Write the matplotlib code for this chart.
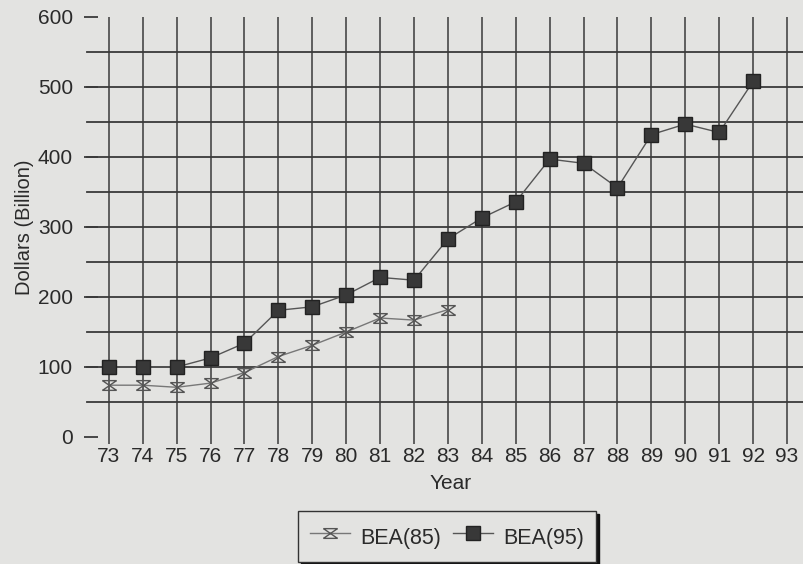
import matplotlib
matplotlib.use("Agg")
import matplotlib.pyplot as plt
from matplotlib.path import Path

# values
years = list(range(73, 94))
bea85_years = list(range(73, 84))
bea85 = [74, 74, 71, 77, 92, 115, 131, 150, 170, 167, 182]
bea95_years = list(range(73, 93))
bea95 = [100, 100, 100, 113, 134, 181, 186, 203, 228, 224,
         283, 313, 336, 397, 391, 356, 432, 447, 435, 508]
yticks = [0, 100, 200, 300, 400, 500, 600]
grid_y = [50, 100, 150, 200, 250, 300, 350, 400, 450, 500, 550]

plt.rcParams['font.family'] = ['Liberation Sans', 'DejaVu Sans']

bg = '#e3e3e1'
ink = '#2a2a2a'
fs = 15

# hourglass marker: X with bars on top and bottom
hourglass = Path([(-1, 0.7), (1, 0.7), (-1, -0.7), (1, -0.7),
                  (-1, 0.7), (1, -0.7), (1, 0.7), (-1, -0.7)],
                 [Path.MOVETO, Path.LINETO, Path.MOVETO, Path.LINETO,
                  Path.MOVETO, Path.LINETO, Path.MOVETO, Path.LINETO])

fig = plt.figure(figsize=(8.04, 5.64), dpi=100, facecolor=bg)
W, H = 804, 564
ax = fig.add_axes([98 / W, 1 - 437 / H, (804 - 98) / W, 420 / H])
ax.set_facecolor(bg)

ax.set_xlim(72.68, 93.5)
ax.set_ylim(0, 600)

# grid
for yv in grid_y:
    ax.axhline(yv, xmin=-0.016, xmax=1, color='#3a3a3a', lw=1.3, clip_on=False, zorder=1)
for xv in years:
    ax.axvline(xv, color='#3a3a3a', lw=1.1, zorder=1)

ax.plot(bea85_years, bea85, color='#777777', lw=1.0, marker=hourglass,
        markersize=10, markerfacecolor='none', markeredgecolor='#555555',
        markeredgewidth=1.0, label='BEA(85)', zorder=3)
ax.plot(bea95_years, bea95, color='#555555', lw=1.0, marker='s',
        markersize=9.5, markerfacecolor='#383838', markeredgecolor='#222222',
        label='BEA(95)', zorder=4)

for s in ax.spines.values():
    s.set_visible(False)

ax.set_xticks(years)
ax.set_xticklabels([str(y) for y in years])
ax.set_yticks(yticks)
ax.tick_params(axis='x', length=5, width=1.1, color='#3a3a3a', pad=2,
               labelsize=fs, labelcolor=ink)
ax.tick_params(axis='y', length=10, width=1.3, color='#3a3a3a', pad=8,
               labelsize=fs, labelcolor=ink)

ax.set_xlabel('Year', fontsize=fs, color=ink, labelpad=6)
ax.set_ylabel('Dollars (Billion)', fontsize=14.5, color=ink, labelpad=2.5)

leg = fig.legend(loc='upper left', bbox_to_anchor=(298 / W, 1 - 511 / H),
                 ncol=2, fontsize=15.5, frameon=True, fancybox=False,
                 borderaxespad=0, borderpad=0.55, handlelength=1.85,
                 handleheight=1.6, handletextpad=0.5, columnspacing=0.55,
                 shadow={'color': '#111111', 'alpha': 1})
leg.get_frame().set_facecolor(bg)
leg.get_frame().set_edgecolor('#333333')
leg.get_frame().set_linewidth(1.0)
for t in leg.get_texts():
    t.set_color(ink)

fig.savefig('out.png', dpi=100, facecolor=bg)
